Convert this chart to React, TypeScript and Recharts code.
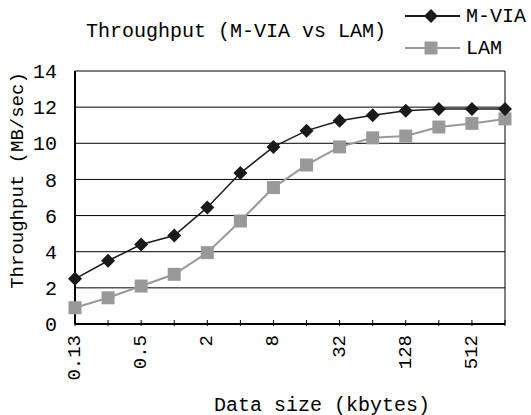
import {
  LineChart,
  Line,
  XAxis,
  YAxis,
  CartesianGrid,
  ReferenceLine,
  Label
} from 'recharts'

const sizes = ['0.13', '0.25', '0.5', '1', '2', '4', '8', '16', '32', '64', '128', '256', '512', '1024']
const mvia = [2.5, 3.5, 4.4, 4.9, 6.45, 8.35, 9.8, 10.7, 11.25, 11.55, 11.8, 11.9, 11.9, 11.9]
const lam = [0.9, 1.45, 2.1, 2.75, 3.95, 5.7, 7.55, 8.8, 9.8, 10.3, 10.4, 10.9, 11.1, 11.35]
const yTicks = [0, 2, 4, 6, 8, 10, 12, 14]

const FONT = '"Liberation Mono", monospace'
const DARK = '#1a1a1a'
const GREY = '#999999'

const data = sizes.map((size, i) => ({ size, mvia: mvia[i], lam: lam[i] }))

const Diamond = ({ cx, cy }: any) => (
  <path d={`M${cx},${cy - 7} L${cx + 7},${cy} L${cx},${cy + 7} L${cx - 7},${cy} Z`} fill={DARK} />
)

const Square = ({ cx, cy }: any) => (
  <rect x={cx - 6.5} y={cy - 6.5} width={13} height={13} fill={GREY} />
)

// inward tick marks, label on every other category
const XTick = ({ x, y, payload, index }: any) => (
  <g>
    <line x1={x} y1={y} x2={x} y2={y - 6} stroke="#000" />
    {index % 2 === 0 && (
      <text
        x={x}
        y={y + 9}
        transform={`rotate(-90 ${x} ${y + 9})`}
        textAnchor="end"
        dominantBaseline="central"
        fontFamily={FONT}
        fontSize={19}
        fill="#000"
      >
        {payload.value}
      </text>
    )}
  </g>
)

const LegendRow = ({ label, color, square }: { label: string; color: string; square?: boolean }) => (
  <div style={{ display: 'flex', alignItems: 'center', height: 32 }}>
    <svg width={56} height={16}>
      <line x1={0} y1={8} x2={55} y2={8} stroke={color} strokeWidth={2} />
      {square ? (
        <rect x={19.5} y={1.5} width={13} height={13} fill={color} />
      ) : (
        <path d="M26,1 L33,8 L26,15 L19,8 Z" fill={color} />
      )}
    </svg>
    <span style={{ fontFamily: FONT, fontSize: 20, color: '#000', marginLeft: 5 }}>{label}</span>
  </div>
)

export default function App() {
  return (
    <div style={{ position: 'absolute', left: 0, top: 0, width: 531, height: 415, background: '#fff' }}>
      <LineChart width={531} height={415} data={data} margin={{ top: 71, right: 26, left: 0, bottom: 0 }}>
        <CartesianGrid vertical={false} stroke="#000" strokeOpacity={1} />
        <ReferenceLine x="1024" stroke="#000" />
        <XAxis
          dataKey="size"
          height={91}
          interval={0}
          tickSize={0}
          tickLine={false}
          tick={<XTick />}
          axisLine={{ stroke: '#000', strokeWidth: 2 }}
        >
          <Label
            content={({ viewBox }: any) => (
              <text
                x={viewBox.x + viewBox.width / 2 + 32}
                y={viewBox.y + 81}
                textAnchor="middle"
                dominantBaseline="central"
                fontFamily={FONT}
                fontSize={20}
                fill="#000"
              >
                Data size (kbytes)
              </text>
            )}
          />
        </XAxis>
        <YAxis
          width={75}
          domain={[0, 14]}
          ticks={yTicks}
          interval={0}
          tickLine={false}
          tickMargin={12}
          tick={{ fontFamily: FONT, fontSize: 20, fill: '#000' }}
          axisLine={{ stroke: '#000', strokeWidth: 2 }}
        >
          <Label
            content={({ viewBox }: any) => {
              const x = viewBox.x + 18
              const y = viewBox.y + viewBox.height / 2 - 17
              return (
                <text
                  x={x}
                  y={y}
                  transform={`rotate(-90 ${x} ${y})`}
                  textAnchor="middle"
                  dominantBaseline="central"
                  fontFamily={FONT}
                  fontSize={19}
                  fill="#000"
                >
                  Throughput (MB/sec)
                </text>
              )
            }}
          />
        </YAxis>
        <Line
          dataKey="lam"
          stroke={GREY}
          strokeWidth={2}
          dot={<Square />}
          activeDot={false}
          isAnimationActive={false}
        />
        <Line
          dataKey="mvia"
          stroke={DARK}
          strokeWidth={1.5}
          dot={<Diamond />}
          activeDot={false}
          isAnimationActive={false}
        />
      </LineChart>
      <div
        style={{
          position: 'absolute',
          left: 0,
          top: 20,
          width: 472,
          textAlign: 'center',
          fontFamily: FONT,
          fontSize: 20,
          color: '#000'
        }}
      >
        Throughput (M-VIA vs LAM)
      </div>
      <div style={{ position: 'absolute', left: 405, top: 0 }}>
        <LegendRow label="M-VIA" color={DARK} />
        <LegendRow label="LAM" color={GREY} square />
      </div>
    </div>
  )
}
